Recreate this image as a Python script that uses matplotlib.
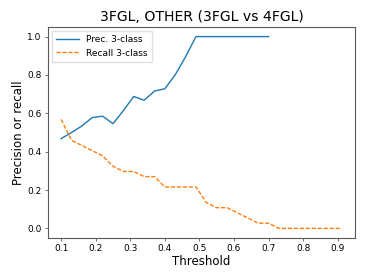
import numpy as np
import matplotlib
matplotlib.use("Agg")
import matplotlib.pyplot as plt

# thresholds 0.10 .. 0.91, step 0.03
threshold = [0.10, 0.13, 0.16, 0.19, 0.22, 0.25, 0.28, 0.31, 0.34, 0.37,
             0.40, 0.43, 0.46, 0.49, 0.52, 0.55, 0.58, 0.61, 0.64, 0.67,
             0.70, 0.73, 0.76, 0.79, 0.82, 0.85, 0.88, 0.91]
precision = [0.468, 0.500, 0.534, 0.578, 0.585, 0.546, 0.614, 0.688, 0.668, 0.716,
             0.728, 0.801, 0.895, 1.0, 1.0, 1.0, 1.0, 1.0, 1.0, 1.0,
             1.0, np.nan, np.nan, np.nan, np.nan, np.nan, np.nan, np.nan]
recall = [0.568, 0.459, 0.432, 0.405, 0.378, 0.324, 0.297, 0.297, 0.270, 0.270,
          0.216, 0.216, 0.216, 0.216, 0.135, 0.108, 0.108, 0.081, 0.054, 0.027,
          0.027, 0.0, 0.0, 0.0, 0.0, 0.0, 0.0, 0.0]
xticks = [0.1, 0.2, 0.3, 0.4, 0.5, 0.6, 0.7, 0.8, 0.9]

plt.rcParams.update({
    "font.family": "DejaVu Sans",
    "axes.edgecolor": "0.35",
    "xtick.color": "0.35", "ytick.color": "0.35",
    "xtick.labelcolor": "black", "ytick.labelcolor": "black",
    "xtick.major.size": 2.5, "ytick.major.size": 2.5,
    "xtick.major.width": 0.6, "ytick.major.width": 0.6,
    "axes.linewidth": 0.8,
})

fig = plt.figure(figsize=(3.74, 2.8), dpi=100)
ax = fig.add_axes([48 / 374, 1 - 238 / 280, (355 - 48) / 374, (238 - 27) / 280])

ax.plot(threshold, precision, color="#1f77b4", linewidth=1.0, label="Prec. 3-class")
ax.plot(threshold, recall, color="#ff7f0e", linewidth=1.0, linestyle="--",
        dashes=(3, 1.3), label="Recall 3-class")

ax.set_xlim(0.062, 0.95)
ax.set_ylim(-0.05, 1.05)
ax.set_xticks(xticks)
ax.set_yticks([0.0, 0.2, 0.4, 0.6, 0.8, 1.0])
ax.tick_params(labelsize=6.5, pad=2)
ax.set_xlabel("Threshold", fontsize=8.5, labelpad=1)
ax.set_ylabel("Precision or recall", fontsize=8.5, labelpad=2)
ax.set_title("3FGL, OTHER (3FGL vs 4FGL)", fontsize=10.1, pad=4)
ax.legend(loc="upper left", fontsize=6.5, frameon=True, fancybox=False,
          edgecolor="0.85", borderpad=0.5, handlelength=2.5, borderaxespad=0.4)

fig.savefig("out.png", dpi=100)
